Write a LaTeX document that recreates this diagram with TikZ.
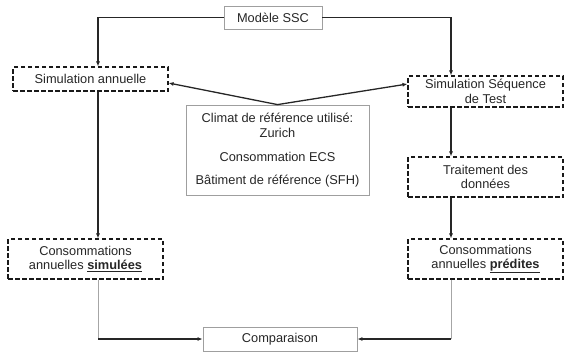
\documentclass[tikz,border=0pt]{standalone}
\usepackage{fontspec}
\setmainfont{Liberation Sans}
\usetikzlibrary{arrows.meta,positioning}

\begin{document}
\begin{tikzpicture}[x=1pt,y=-1pt,
    every node/.style={font=\fontsize{12.8}{14.5}\selectfont,align=center,inner sep=0pt,text=black!85},
    dashedbox/.style={draw=black!90,line width=1.1pt,dash pattern=on 4.5pt off 2.5pt,minimum width=155pt},
    greybox/.style={draw=gray!75,line width=.8pt},
    link/.style={black!85,line width=1.3pt,-{Latex[length=5pt,width=4pt]}},
    thinlink/.style={gray!70,line width=.9pt}]
  \useasboundingbox (0,0) rectangle (567,356);

  \node[greybox,minimum width=98pt,minimum height=23pt] (ssc) at (273,17.5) {Modèle SSC};
  \node[dashedbox,minimum height=24pt] (simann) at (90.5,79) {Simulation annuelle};
  \node[dashedbox,minimum height=31pt] (simseq) at (485.5,91.5) {Simulation Séquence\\de Test};
  \node[greybox,minimum width=183pt,minimum height=90pt] (climat) at (277.5,150)
    {Climat de référence utilisé:\\Zurich\\[10pt]Consommation ECS\\[8pt]Bâtiment de référence (SFH)};
  \node[dashedbox,minimum height=40pt] (trait) at (485.5,177) {Traitement des\\données};
  \node[dashedbox,minimum height=40pt] (conssim) at (85.5,259)
    {Consommations\\annuelles \underline{\textbf{simulées}}};
  \node[dashedbox,minimum height=40pt] (conspred) at (485.5,259)
    {Consommations\\annuelles \underline{\textbf{prédites}}};
  \node[greybox,minimum width=154pt,minimum height=24pt] (comp) at (280,339) {Comparaison};

  % columns of the vertical links
  \coordinate (lcol) at (98,0);
  \coordinate (rcol) at (451,0);
  \coordinate (lcorner) at (comp.west -| lcol);
  \coordinate (rcorner) at (comp.east -| rcol);

  \draw[link] (ssc.west) -| (simann.north -| lcol);
  \draw[link] (ssc.east) -| (simseq.north -| rcol);
  \draw[link,{Latex[length=5pt,width=4pt]}-{Latex[length=5pt,width=4pt]}]
    ([yshift=-4pt]simann.east) -- (climat.north) -- ([yshift=7.5pt]simseq.west);
  \draw[link] (simann.south -| lcol) -- (conssim.north -| lcol);
  \draw[link] (simseq.south -| rcol) -- (trait.north -| rcol);
  \draw[link] (trait.south -| rcol) -- (conspred.north -| rcol);

  \draw[thinlink] (conssim.south -| lcol) -- (lcorner);
  \draw[thinlink] (conspred.south -| rcol) -- (rcorner);
  \draw[link,line width=1.5pt] (lcorner) -- (comp.west);
  \draw[link,line width=1.5pt] (rcorner) -- (comp.east);
\end{tikzpicture}
\end{document}
